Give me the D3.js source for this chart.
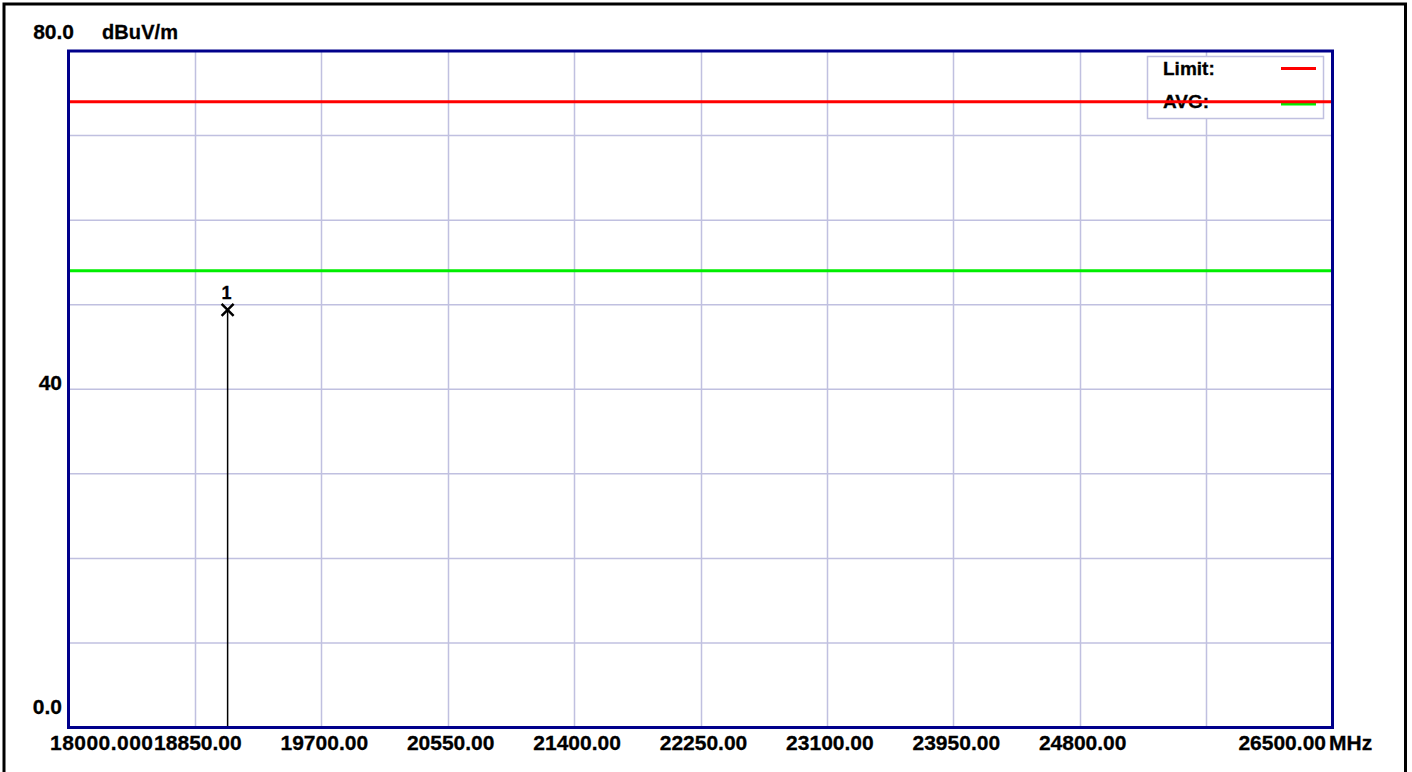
<!DOCTYPE html>
<html>
<head>
<meta charset="utf-8">
<script src="https://cdn.jsdelivr.net/npm/d3@7"></script>
<style>
html,body{margin:0;padding:0;background:#fff;}
svg{display:block;}
text{font-family:"Liberation Sans",Arial,sans-serif;font-weight:bold;fill:#000;stroke:#000;stroke-width:0.3px;}
</style>
</head>
<body>
<svg id="chart" width="1412" height="772"></svg>
<script>
// ---- data ----
const xDomain = [18000, 26500];
const yDomain = [0, 80];
const xTickValues = [18000, 18850, 19700, 20550, 21400, 22250, 23100, 23950, 24800, 25650, 26500];
const xTickLabels = ["18000.000", "18850.00", "19700.00", "20550.00", "21400.00", "22250.00", "23100.00", "23950.00", "24800.00", "", "26500.00"];
const yTickValues = [0, 10, 20, 30, 40, 50, 60, 70, 80];
const yTickLabels = {0: "0.0", 40: "40", 80: "80.0"};
const limitLevel = [74.0];
const avgLevel = [54.0];
const markerFreq = [19070];
const markerLevel = [49.4];
const markerLabels = ["1"];
const legendNames = ["Limit:", "AVG:"];
const legendColors = ["#ff0000", "#00ee00"];

// ---- layout ----
const svg = d3.select("#chart");
const L = 68.5, R = 1332.5, T = 51, B = 727.5;
const x = d3.scaleLinear().domain(xDomain).range([L, R]);
const y = d3.scaleLinear().domain(yDomain).range([B, T]);

// outer frame (no bottom)
svg.append("path").attr("d", `M4,772 V4 H1405.5 V772`).attr("fill", "none").attr("stroke", "#000").attr("stroke-width", 3);

// grid
const grid = svg.append("g");
grid.selectAll("line.v").data(xTickValues.slice(1, -1)).enter().append("line")
  .attr("x1", d => Math.round(x(d)) + 0.5).attr("x2", d => Math.round(x(d)) + 0.5)
  .attr("y1", T).attr("y2", B).attr("stroke", "#c0c0e0").attr("stroke-width", 1.5);
grid.selectAll("line.h").data(yTickValues.slice(1, -1)).enter().append("line")
  .attr("x1", L).attr("x2", R)
  .attr("y1", d => y(d)).attr("y2", d => y(d)).attr("stroke", "#c0c0e0").attr("stroke-width", 1.5);

// legend box
const lg = svg.append("g");
lg.append("rect").attr("x", 1147.5).attr("y", 56.5).attr("width", 176).attr("height", 62)
  .attr("fill", "#fff").attr("stroke", "#c0c0e0").attr("stroke-width", 1.5);
legendNames.forEach((n, i) => {
  lg.append("text").attr("x", 1163).attr("y", 75 + i * 33).attr("font-size", 19).text(n);
  lg.append("line").attr("x1", 1281).attr("x2", 1316).attr("y1", 68.5 + i * 35.5).attr("y2", 68.5 + i * 35.5)
    .attr("stroke", legendColors[i]).attr("stroke-width", 3);
});

// limit lines
svg.append("line").attr("x1", L).attr("x2", R).attr("y1", y(limitLevel[0])).attr("y2", y(limitLevel[0]))
  .attr("stroke", legendColors[0]).attr("stroke-width", 3);
svg.append("line").attr("x1", L).attr("x2", R).attr("y1", y(avgLevel[0])).attr("y2", y(avgLevel[0]))
  .attr("stroke", legendColors[1]).attr("stroke-width", 3);

// marker
markerFreq.forEach((f, i) => {
  const mx = x(f), my = y(markerLevel[i]);
  svg.append("line").attr("x1", mx).attr("x2", mx).attr("y1", my).attr("y2", B).attr("stroke", "#000").attr("stroke-width", 1.5);
  svg.append("path").attr("d", `M${mx-6},${my-6}L${mx+6},${my+6}M${mx+6},${my-6}L${mx-6},${my+6}`)
    .attr("stroke", "#000").attr("stroke-width", 2.5).attr("fill", "none");
  svg.append("text").attr("x", mx - 1).attr("y", my - 10.5).attr("text-anchor", "middle").attr("font-size", 18).text(markerLabels[i]);
});

// plot frame
svg.append("rect").attr("x", L).attr("y", T).attr("width", R - L).attr("height", B - T)
  .attr("fill", "none").attr("stroke", "#00008b").attr("stroke-width", 3);

// x labels
xTickValues.forEach((v, i) => {
  const t = xTickLabels[i];
  if (!t) return;
  const el = svg.append("text").attr("y", 750).attr("font-size", 21).text(t);
  if (i === 0) el.attr("x", 50).attr("textLength", 103).attr("lengthAdjust", "spacing");
  else if (i === xTickValues.length - 1) el.attr("x", 1326).attr("text-anchor", "end");
  else el.attr("x", x(v) + 3).attr("text-anchor", "middle");
});
svg.append("text").attr("x", 1329).attr("y", 750).attr("font-size", 21).text("MHz");

// y labels
const yLabelBase = {0: 714, 40: 390, 80: 39};
Object.keys(yTickLabels).forEach(k => {
  const v = +k;
  svg.append("text").attr("y", yLabelBase[v]).attr("x", v === 80 ? 74 : 62)
    .attr("font-size", 21).attr("text-anchor", "end").text(yTickLabels[k]);
});
svg.append("text").attr("x", 102).attr("y", 39).attr("font-size", 20).attr("textLength", 76).attr("lengthAdjust", "spacing").text("dBuV/m");
</script>
</body>
</html>
